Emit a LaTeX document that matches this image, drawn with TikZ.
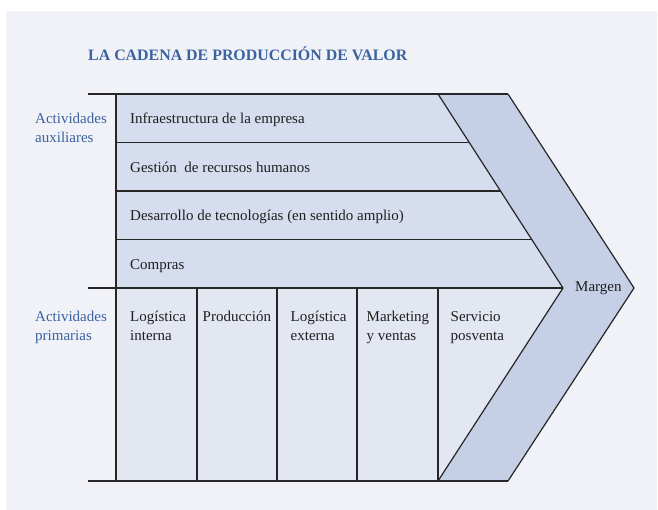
\documentclass[tikz,border=0pt]{standalone}
\usepackage{fontspec}
\setmainfont{Liberation Serif}
\usetikzlibrary{calc}
\definecolor{panelbg}{HTML}{F0F2F8}
\definecolor{supfill}{HTML}{D6DDEE}
\definecolor{primfill}{HTML}{E3E7F2}
\definecolor{chevfill}{HTML}{C5D0E6}
\definecolor{titleblue}{HTML}{3A62A0}
\definecolor{linecol}{HTML}{262626}
\tikzset{
  frameline/.style={draw=linecol, line width=1.2pt},
  bodytext/.style={inner sep=0pt, anchor=base west, align=left, font=\fontsize{15}{18.5}\selectfont, text=black!88},
  sidetext/.style={bodytext, text=titleblue},
  titletext/.style={inner sep=0pt, anchor=base west, font=\bfseries\fontsize{15.9}{19}\selectfont, text=titleblue}
}
\begin{document}
\begin{tikzpicture}[x=1pt,y=-1pt]
\useasboundingbox (0,0) rectangle (658,510);
\fill[panelbg] (6,11) rectangle (657,510);
% key coordinates
\coordinate (TL) at (116,94);
\coordinate (BL) at (116,481);
\coordinate (ML) at (116,288);
\coordinate (TLx) at (88,94);
\coordinate (MLx) at (88,288);
\coordinate (BLx) at (88,481);
\coordinate (I1) at (438,94);
\coordinate (IM) at (563,288);
\coordinate (I2) at (438,481);
\coordinate (O1) at (508,94);
\coordinate (OM) at (634,288);
\coordinate (O2) at (508,481);
% fills
\fill[supfill] (TL) -- (I1) -- (IM) -- (ML) -- cycle;
\fill[primfill] (ML) -- (IM) -- (I2) -- (BL) -- cycle;
\fill[chevfill] (I1) -- (O1) -- (OM) -- (O2) -- (I2) -- (IM) -- cycle;
% row separators
\foreach \f/\yy in {0.25/142.5, 0.5/191, 0.75/239.5}
  \draw[frameline] (116,\yy) -- ($(I1)!\f!(IM)$);
% column separators
\foreach \xx in {197, 277, 357, 438}
  \draw[frameline] (\xx,288) -- (\xx,481);
% frame lines
\draw[frameline] (TLx) -- (O1);
\draw[frameline] (MLx) -- (IM);
\draw[frameline] (BLx) -- (O2);
\draw[frameline, line width=1.4pt] (TL) -- (BL);
\draw[frameline, line join=miter] (I1) -- (IM) -- (I2);
\draw[frameline, line join=miter] (O1) -- (OM) -- (O2);
% texts (base anchor of two-line nodes = baseline of last line)
\node[titletext] (title) at (88,60.5) {LA CADENA DE PRODUCCIÓN DE VALOR};
\node[sidetext] (aux) at (35,142.5) {Actividades\\auxiliares};
\node[sidetext] (prim) at (35,340) {Actividades\\primarias};
\node[bodytext] (infra) at (130,124) {Infraestructura de la empresa};
\node[bodytext] (rrhh) at (130,172.5) {Gestión\ \ de recursos humanos};
\node[bodytext] (tec) at (130,221) {Desarrollo de tecnologías (en sentido amplio)};
\node[bodytext] (comp) at (130,269.5) {Compras};
\node[bodytext] (marg) at (575,292) {Margen};
\node[bodytext] (li) at (130,340) {Logística\\interna};
\node[bodytext] (prod) at (202.5,321.5) {Producción};
\node[bodytext] (le) at (290.5,340) {Logística\\externa};
\node[bodytext] (mkt) at (366.5,340) {Marketing\\y ventas};
\node[bodytext] (serv) at (450.5,340) {Servicio\\posventa};
\end{tikzpicture}
\end{document}
